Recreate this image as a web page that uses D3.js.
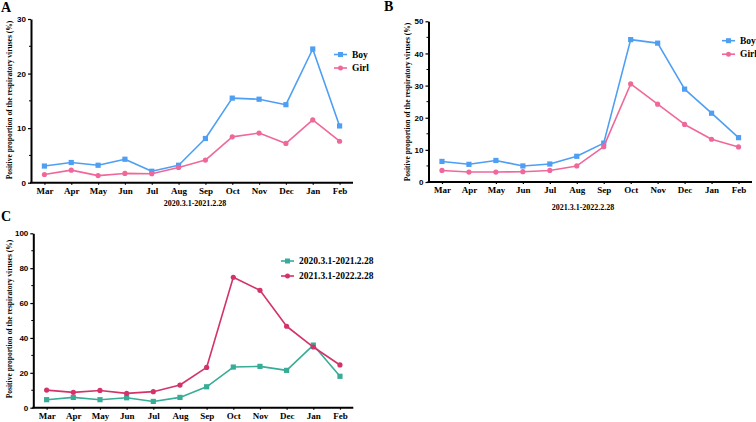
<!DOCTYPE html>
<html>
<head>
<meta charset="utf-8">
<script src="https://cdn.jsdelivr.net/npm/d3@7"></script>
<style>
    body { margin: 0; background: #fff; }
    svg { display: block; }
</style>
</head>
<body>
<script>
// ---------------------------------------------------------------------------
// Data
// ---------------------------------------------------------------------------
var months = ["Mar", "Apr", "May", "Jun", "Jul", "Aug",
              "Sep", "Oct", "Nov", "Dec", "Jan", "Feb"];

// Panel A: 2020.3.1-2021.2.28
var boyA  = [3.05, 3.7, 3.2, 4.3, 2.1, 3.2, 8.1, 15.5, 15.3, 14.3, 24.5, 10.4];
var girlA = [1.5, 2.3, 1.3, 1.7, 1.65, 2.8, 4.15, 8.4, 9.1, 7.2, 11.5, 7.6];

// Panel B: 2021.3.1-2022.2.28
var boyB  = [6.4, 5.5, 6.7, 5.0, 5.6, 8.0, 12.1, 44.3, 43.2, 28.9, 21.4, 13.8];
var girlB = [3.6, 3.1, 3.1, 3.2, 3.6, 5.0, 11.0, 30.5, 24.2, 17.9, 13.3, 10.9];

// Panel C: both years
var year2020 = [4.6, 5.9, 4.6, 5.7, 3.6, 5.9, 12.0, 23.3, 23.7, 21.4, 35.9, 18.0];
var year2021 = [10.1, 8.8, 9.9, 8.2, 9.2, 13.0, 23.1, 74.8, 67.3, 46.7, 34.8, 24.5];

var ticksA = [0, 10, 20, 30];
var ticksB = [0, 10, 20, 30, 40, 50];
var ticksC = [0, 20, 40, 60, 80, 100];

var yTitle = "Positive proportion of the respiratory viruses (%)";

var BLUE = "#4e9ff3", PINK = "#f0689a", TEAL = "#37ad97", RED = "#d3336a";
var SERIF = "'Liberation Serif', 'Times New Roman', serif";
var SANS = "'Liberation Sans', Arial, sans-serif";

var svg = d3.select("body").append("svg")
    .attr("width", 756)
    .attr("height", 422);

// Draws one panel. box = {x0, x1, y0, y1} pixel frame of the plot area.
function panel(cfg) {
    var b = cfg.box;
    var x = d3.scalePoint().domain(months).range([b.x0, b.x1]).padding(0.5);
    var y = d3.scaleLinear().domain([0, cfg.ymax]).range([b.y1, b.y0]);
    var g = svg.append("g");

    // y axis with major ticks, then minor ticks halfway between
    var yAxis = d3.axisLeft(y).tickValues(cfg.ticks).tickSize(3)
        .tickSizeOuter(0).tickPadding(2);
    var ya = g.append("g")
        .attr("transform", "translate(" + b.x0 + ",0)")
        .call(yAxis);
    ya.select(".domain").attr("stroke-width", 2);
    ya.selectAll(".tick line").attr("stroke-width", 1.2);
    ya.selectAll(".tick text")
        .attr("font-family", SANS)
        .attr("font-weight", "bold")
        .attr("font-size", 8)
        .attr("fill", "#000");
    var step = cfg.ticks[1] - cfg.ticks[0];
    var minor = cfg.ticks.slice(0, -1).map(function(d) { return d + step / 2; });
    g.selectAll(".minor").data(minor).enter().append("line")
        .attr("x1", b.x0 - 2).attr("x2", b.x0)
        .attr("y1", function(d) { return y(d); })
        .attr("y2", function(d) { return y(d); })
        .attr("stroke", "#000").attr("stroke-width", 1);

    // x axis
    var xAxis = d3.axisBottom(x).tickSize(2).tickSizeOuter(0).tickPadding(3);
    var xa = g.append("g")
        .attr("transform", "translate(0," + b.y1 + ")")
        .call(xAxis);
    xa.select(".domain").attr("stroke-width", 2)
        .attr("d", "M" + (b.x0 - 1) + ",0H" + b.x1);
    xa.selectAll(".tick line").attr("stroke-width", 1.2);
    xa.selectAll(".tick text")
        .attr("font-family", SERIF)
        .attr("font-weight", "bold")
        .attr("font-size", 9)
        .attr("fill", "#000");

    // lines and markers
    var line = d3.line()
        .x(function(d, i) { return x(months[i]); })
        .y(function(d) { return y(d); });
    cfg.series.forEach(function(s) {
        g.append("path").datum(s.values)
            .attr("d", line)
            .attr("fill", "none")
            .attr("stroke", s.color)
            .attr("stroke-width", 1.6)
            .attr("stroke-linejoin", "round");
        if (s.shape === "square") {
            g.selectAll(null).data(s.values).enter().append("rect")
                .attr("x", function(d, i) { return x(months[i]) - 2.6; })
                .attr("y", function(d) { return y(d) - 2.6; })
                .attr("width", 5.2).attr("height", 5.2)
                .attr("fill", s.color);
        } else {
            g.selectAll(null).data(s.values).enter().append("circle")
                .attr("cx", function(d, i) { return x(months[i]); })
                .attr("cy", function(d) { return y(d); })
                .attr("r", 2.6)
                .attr("fill", s.color);
        }
    });

    // legend
    cfg.series.forEach(function(s, i) {
        var ly = cfg.legend.y + i * cfg.legend.dy;
        var lx = cfg.legend.x;
        g.append("line")
            .attr("x1", lx).attr("x2", lx + 13)
            .attr("y1", ly).attr("y2", ly)
            .attr("stroke", s.color).attr("stroke-width", 1.6);
        if (s.shape === "square") {
            g.append("rect").attr("x", lx + 4).attr("y", ly - 2.5)
                .attr("width", 5).attr("height", 5).attr("fill", s.color);
        } else {
            g.append("circle").attr("cx", lx + 6.5).attr("cy", ly)
                .attr("r", 2.5).attr("fill", s.color);
        }
        g.append("text")
            .attr("x", lx + 18).attr("y", ly + 3)
            .attr("font-family", SERIF).attr("font-weight", "bold")
            .attr("font-size", 9.5)
            .text(s.name);
    });

    // y title
    g.append("text")
        .attr("transform", "translate(" + cfg.ytitle.x + "," +
              cfg.ytitle.y + ") rotate(-90)")
        .attr("text-anchor", "middle")
        .attr("font-family", SERIF).attr("font-weight", "bold")
        .attr("font-size", 7.5)
        .text(yTitle);

    // x title
    if (cfg.xtitle) {
        g.append("text")
            .attr("x", cfg.xtitle.x).attr("y", cfg.xtitle.y)
            .attr("text-anchor", "middle")
            .attr("font-family", SERIF).attr("font-weight", "bold")
            .attr("font-size", 8)
            .text(cfg.xtitle.text);
    }

    // panel letter
    g.append("text")
        .attr("x", cfg.letter.x).attr("y", cfg.letter.y)
        .attr("font-family", SERIF).attr("font-weight", "bold")
        .attr("font-size", 14)
        .text(cfg.letter.text);
}

panel({
    box: {x0: 31, x1: 353, y0: 19, y1: 182.7},
    ymax: 30, ticks: ticksA,
    series: [
        {name: "Boy", values: boyA, color: BLUE, shape: "square"},
        {name: "Girl", values: girlA, color: PINK, shape: "circle"}
    ],
    legend: {x: 334, y: 54.5, dy: 13.5},
    ytitle: {x: 11.5, y: 100},
    xtitle: {x: 195, y: 206, text: "2020.3.1-2021.2.28"},
    letter: {x: 1, y: 12, text: "A"}
});

panel({
    box: {x0: 428.5, x1: 752, y0: 21.3, y1: 182},
    ymax: 50, ticks: ticksB,
    series: [
        {name: "Boy", values: boyB, color: BLUE, shape: "square"},
        {name: "Girl", values: girlB, color: PINK, shape: "circle"}
    ],
    legend: {x: 722, y: 40.7, dy: 13.5},
    ytitle: {x: 409.5, y: 102},
    xtitle: {x: 583, y: 210, text: "2021.3.1-2022.2.28"},
    letter: {x: 384, y: 11, text: "B"}
});

panel({
    box: {x0: 33.3, x1: 353.3, y0: 233.3, y1: 407.7},
    ymax: 100, ticks: ticksC,
    series: [
        {name: "2020.3.1-2021.2.28", values: year2020, color: TEAL, shape: "square"},
        {name: "2021.3.1-2022.2.28", values: year2021, color: RED, shape: "circle"}
    ],
    legend: {x: 281, y: 261, dy: 15},
    ytitle: {x: 12, y: 319},
    xtitle: null,
    letter: {x: 1, y: 221, text: "C"}
});
</script>
</body>
</html>
